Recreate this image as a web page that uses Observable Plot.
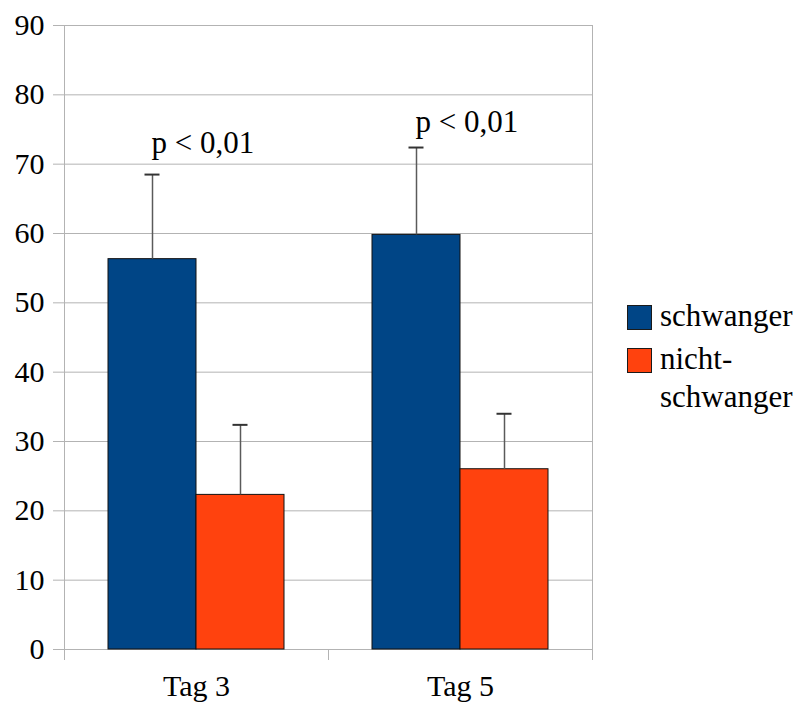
<!DOCTYPE html>
<html><head><meta charset="utf-8">
<script src="https://cdn.jsdelivr.net/npm/d3@7"></script>
<script src="https://cdn.jsdelivr.net/npm/@observablehq/plot@0.6"></script>
<style>
body{margin:0;background:#fff;font-family:'Liberation Serif','Times New Roman',serif;}
#wrap{position:relative;width:803px;height:702px;font-family:'Liberation Serif','Times New Roman',serif;}
#legend{position:absolute;left:627px;top:297px;display:flex;flex-direction:column;gap:5px;}
.item{display:flex;align-items:flex-start;}
.sw{width:25px;height:25px;box-sizing:border-box;border:1px solid #1a1a1a;margin-top:8px;margin-right:8px;flex:none;}
.lab{font-family:'Liberation Serif','Times New Roman',serif;font-size:31px;line-height:38px;width:143px;color:#000;}
svg text{font-family:'Liberation Serif','Times New Roman',serif !important;}
</style></head><body><div id="wrap"><div id="legend"></div></div>
<script>
const days = ["Tag 3", "Tag 5"];
const groups = ["schwanger", "nicht-schwanger"];
const colors = ["#004586", "#ff420e"];
const schwanger = [56.3, 59.8];
const schwangerSD = [12.2, 12.6];
const nicht = [22.3, 26.0];
const nichtSD = [10.1, 8.0];
const pLabels = ["p < 0,01", "p < 0,01"];
const pLabelY = [71.6, 74.7];
const yTicks = [0, 10, 20, 30, 40, 50, 60, 70, 80, 90];

const FONT = "'Liberation Serif', 'Times New Roman', serif";

const rows = days.flatMap((d, i) => [
  {day: d, group: groups[0], value: schwanger[i], upper: schwanger[i] + schwangerSD[i]},
  {day: d, group: groups[1], value: nicht[i], upper: nicht[i] + nichtSD[i]}
]);
const labelRows = days.map((d, i) => ({day: d, group: groups[0], y: pLabelY[i], text: pLabels[i]}));

const chart = Plot.plot({
  width: 803, height: 702,
  marginLeft: 64, marginRight: 211, marginTop: 25, marginBottom: 53,
  style: {fontFamily: FONT, fontSize: "30px", color: "#000", background: "#fff"},
  fx: {domain: days, padding: 0, label: null},
  x: {domain: groups, paddingInner: 0, paddingOuter: 0.5, axis: null, label: null},
  y: {domain: [0, 90], label: null},
  color: {domain: groups, range: colors},
  marks: [
    Plot.gridY(yTicks, {stroke: "#b3b3b3", strokeOpacity: 1}),
    Plot.axisY(yTicks, {tickSize: 11, tickPadding: 9, stroke: "#b3b3b3", strokeOpacity: 1, fill: "#000", fontSize: 30, fontFamily: FONT, label: null}),
    Plot.axisFx({anchor: "bottom", tickSize: 0, tickPadding: 25, fontSize: 30, fontFamily: FONT, label: null, fill: "#000"}),
    Plot.barY(rows, {fx: "day", x: "group", y: "value", fill: "group", stroke: "#111", strokeWidth: 1}),
    Plot.ruleX(rows, {fx: "day", x: "group", y1: "value", y2: "upper", stroke: "#5a5a5a", strokeWidth: 1.5}),
    Plot.tickY(rows, {fx: "day", x: "group", y: "upper", stroke: "#333", strokeWidth: 2, insetLeft: 36.5, insetRight: 36.5}),
    Plot.text(labelRows, {fx: "day", x: "group", y: "y", text: "text", textAnchor: "start", lineAnchor: "bottom", fontSize: 31, fontFamily: FONT, fill: "#000", dx: -1})
  ]
});

// category boundary ticks and frame lines from the library's scales
const fxs = chart.scale("fx"), ys = chart.scale("y");
const edges = fxs.domain.map(d => fxs.apply(d));
edges.push(fxs.apply(fxs.domain[fxs.domain.length - 1]) + fxs.bandwidth);
const g = d3.select(chart).append("g").attr("stroke", "#b3b3b3").attr("stroke-width", 1);
edges.forEach((e, i) => {
  const outer = i === 0 || i === edges.length - 1;
  g.append("line")
    .attr("x1", Math.round(e) + 0.5).attr("x2", Math.round(e) + 0.5)
    .attr("y1", outer ? ys.apply(90) : ys.apply(0))
    .attr("y2", ys.apply(0) + 11);
});

document.getElementById("wrap").prepend(chart);

const legend = document.getElementById("legend");
groups.forEach((grp, i) => {
  const item = document.createElement("div");
  item.className = "item";
  const sw = document.createElement("div");
  sw.className = "sw";
  sw.style.background = colors[i];
  const lab = document.createElement("div");
  lab.className = "lab";
  lab.textContent = grp;
  item.append(sw, lab);
  legend.append(item);
});
</script></body></html>
